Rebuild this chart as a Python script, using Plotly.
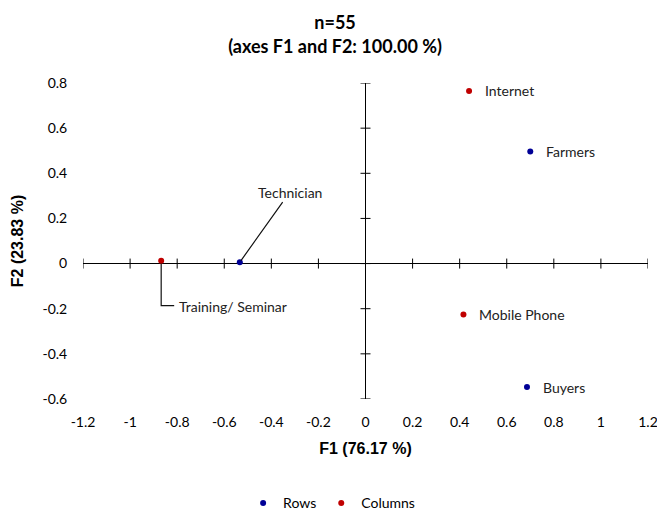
import plotly.graph_objects as go

# Correspondence analysis coordinates (F1, F2)
row_labels = ["Technician", "Farmers", "Buyers"]
row_f1 = [-0.534, 0.70, 0.686]
row_f2 = [0.006, 0.497, -0.547]

col_labels = ["Training/ Seminar", "Internet", "Mobile Phone"]
col_f1 = [-0.868, 0.44, 0.416]
col_f2 = [0.013, 0.765, -0.226]

x_ticks = [-1.2, -1.0, -0.8, -0.6, -0.4, -0.2, 0.0, 0.2, 0.4, 0.6, 0.8, 1.0, 1.2]
x_tick_text = ["-1.2", "-1", "-0.8", "-0.6", "-0.4", "-0.2", "0", "0.2", "0.4", "0.6", "0.8", "1", "1.2"]
y_ticks = [-0.6, -0.4, -0.2, 0.0, 0.2, 0.4, 0.6, 0.8]
y_tick_text = ["-0.6", "-0.4", "-0.2", "0", "0.2", "0.4", "0.6", "0.8"]

ROW_COLOR = "rgb(0,0,150)"
COL_COLOR = "rgb(192,0,0)"
LABEL_FONT = dict(family="Lato", size=14, color="#222")
TICK_FONT = dict(family="Lato", size=14, color="black")

fig = go.Figure()
fig.add_trace(go.Scatter(x=row_f1, y=row_f2, mode="markers", name="Rows",
                         marker=dict(color=ROW_COLOR, size=6), cliponaxis=False))
fig.add_trace(go.Scatter(x=col_f1, y=col_f2, mode="markers", name="Columns",
                         marker=dict(color=COL_COLOR, size=6), cliponaxis=False))

# Point labels
for labels, xs, ys in [(row_labels, row_f1, row_f2), (col_labels, col_f1, col_f2)]:
    for lab, xv, yv in zip(labels, xs, ys):
        if lab == "Technician":
            fig.add_annotation(x=xv, y=yv, text=lab, showarrow=True, arrowhead=0,
                               arrowwidth=1.2, arrowcolor="#111", ax=50, ay=-70,
                               standoff=2, font=LABEL_FONT)
        elif lab == "Training/ Seminar":
            fig.add_annotation(x=xv, y=yv, text=lab, showarrow=False,
                               xanchor="left", yanchor="middle", xshift=16, yshift=-46,
                               font=LABEL_FONT)
            # elbow leader line from the point to the label
            fig.add_shape(type="path", xref="x", yref="y", xsizemode="pixel",
                          ysizemode="pixel", xanchor=xv, yanchor=yv,
                          path="M0,-3 L0,-45 L13,-45",
                          line=dict(color="#111", width=1.2))
        else:
            fig.add_annotation(x=xv, y=yv, text=lab, showarrow=False,
                               xanchor="left", yanchor="middle", xshift=14,
                               font=LABEL_FONT)

# Cross-shaped tick marks along the zero axes
for t in x_ticks:
    fig.add_shape(type="line", xref="x", yref="y", x0=t, x1=t, ysizemode="pixel",
                  yanchor=0, y0=-5, y1=5, line=dict(color="black", width=1))
for t in y_ticks:
    fig.add_shape(type="line", xref="x", yref="y", y0=t, y1=t, xsizemode="pixel",
                  xanchor=0, x0=-5, x1=5, line=dict(color="black", width=1))

fig.update_layout(
    width=657, height=512,
    margin=dict(l=83, r=9, t=83, b=113, autoexpand=False),
    paper_bgcolor="white", plot_bgcolor="white",
    title=dict(text="<b>n=55<br>(axes F1 and F2: 100.00 %)</b>",
               x=0.51, xanchor="center", y=0.943, yanchor="middle",
               font=dict(family="Lato", size=18, color="black")),
    xaxis=dict(range=[-1.2001, 1.2001], tickmode="array", tickvals=x_ticks, ticktext=x_tick_text,
               showgrid=False, zeroline=True, zerolinecolor="black", zerolinewidth=1,
               showline=False, ticks="outside", ticklen=10, tickcolor="rgba(0,0,0,0)",
               tickfont=TICK_FONT, automargin=False, ticklabeloverflow="allow",
               title=dict(text="<b>F1 (76.17 %)</b>", standoff=14,
                          font=dict(family="Liberation Sans", size=16, color="black"))),
    yaxis=dict(range=[-0.6001, 0.8001], tickmode="array", tickvals=y_ticks, ticktext=y_tick_text,
               showgrid=False, zeroline=True, zerolinecolor="black", zerolinewidth=1,
               showline=False, ticks="outside", ticklen=12, tickcolor="rgba(0,0,0,0)",
               tickfont=TICK_FONT, automargin=False, ticklabeloverflow="allow",
               title=dict(text="<b>F2 (23.83 %)</b>", standoff=14,
                          font=dict(family="Liberation Sans", size=16, color="black"))),
    legend=dict(orientation="h", x=0.44, xanchor="center", y=-0.33, yanchor="middle",
                font=dict(family="Lato", size=14, color="black"), itemwidth=30),
    showlegend=True,
)

fig.write_html("out.html")
